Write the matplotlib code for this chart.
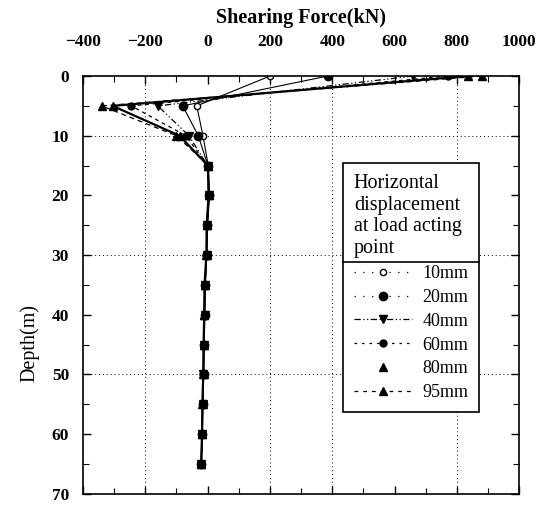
import matplotlib
matplotlib.use("Agg")
from matplotlib import pyplot as plt
from matplotlib.lines import Line2D
from matplotlib.ticker import MultipleLocator

plt.rcParams['font.family'] = ['Liberation Serif', 'DejaVu Serif']

# depth of the measuring points along the pile (m)
depth = [0, 5, 10, 15, 20, 25, 30, 35, 40, 45, 50, 55, 60, 65]

# shearing force (kN) for each horizontal displacement at the load point
sf_10 = [200, -35, -15, 2, 6, 0, -3, -7, -9, -11, -13, -15, -17, -20]
sf_20 = [385, -80, -30, 1, 5, -1, -3, -8, -10, -12, -13, -16, -17, -20]
sf_40 = [660, -160, -60, 0, 4, -2, -3, -9, -10, -13, -14, -16, -18, -21]
sf_60 = [770, -245, -70, 0, 3, -3, -4, -10, -10, -13, -14, -16, -18, -21]
sf_80 = [835, -305, -90, 1, 3, -3, -4, -10, -11, -13, -14, -17, -18, -21]
sf_95 = [880, -340, -100, 2, 3, -3, -3, -10, -11, -13, -13, -16, -17, -20]

labels = ['10mm', '20mm', '40mm', '60mm', '80mm', '95mm']
series = [sf_10, sf_20, sf_40, sf_60, sf_80, sf_95]

# dotted grid lines drawn only at these values
grid_x = [-200, 200, 400, 800]
grid_y = [10, 30, 50]

# (marker, marker face, size, line style in plot, line width, line style in legend)
styles = [
    ('o', 'white', 4.5, '-', 0.8, (0, (1, 6))),
    ('o', 'black', 6, '-', 0.8, (0, (1, 6))),
    ('v', 'black', 6, (0, (5, 2, 1, 2, 1, 2)), 0.9, (0, (5, 2, 1, 2, 1, 2))),
    ('o', 'black', 5, (0, (3, 3)), 0.9, (0, (2, 4))),
    ('^', 'black', 6, '-', 1.6, 'none'),
    ('^', 'black', 6, (0, (4, 3)), 0.9, (0, (3, 4))),
]

fig = plt.figure(figsize=(5.46, 5.07), dpi=100)
ax = fig.add_axes([0.152, 0.026, 0.799, 0.824])

for gx in grid_x:
    ax.axvline(gx, color='black', linestyle=(0, (1, 3)), linewidth=0.7, zorder=0)
for gy in grid_y:
    ax.axhline(gy, color='black', linestyle=(0, (1, 3)), linewidth=0.7, zorder=0)

handles = []
for sf, lab, (mk, mfc, ms, ls, lw, lls) in zip(series, labels, styles):
    ax.plot(sf, depth, color='black', linestyle=ls, linewidth=lw,
            marker=mk, markerfacecolor=mfc, markeredgecolor='black',
            markersize=ms)
    handles.append(Line2D([], [], color='black', linestyle=lls, linewidth=0.9,
                          marker=mk, markerfacecolor=mfc,
                          markeredgecolor='black', markersize=ms, label=lab))

ax.set_xlim(-400, 1000)
ax.set_ylim(70, 0)

ax.xaxis.set_major_locator(MultipleLocator(200))
ax.xaxis.set_minor_locator(MultipleLocator(100))
ax.yaxis.set_major_locator(MultipleLocator(10))
ax.yaxis.set_minor_locator(MultipleLocator(5))
ax.xaxis.tick_top()
ax.xaxis.set_label_position('top')
ax.tick_params(which='both', direction='in', top=True, bottom=True,
               left=True, right=True, labelsize=12.5)
ax.tick_params(which='major', length=6, width=1)
ax.tick_params(which='minor', length=4, width=0.8)
ax.tick_params(axis='x', which='major', pad=19)
ax.tick_params(axis='y', which='major', pad=10)
for lbl in ax.get_xticklabels() + ax.get_yticklabels():
    lbl.set_fontweight('bold')

for sp in ax.spines.values():
    sp.set_linewidth(1.2)

ax.set_xlabel('Shearing Force(kN)', fontsize=14.5, fontweight='bold', labelpad=8)
ax.set_ylabel('Depth(m)', fontsize=14.5)
ax.yaxis.set_label_coords(-0.1, 0.36)

leg = ax.legend(handles=handles,
                title='Horizontal\ndisplacement\nat load acting\npoint',
                title_fontsize=14.5, fontsize=13, alignment='left',
                loc='upper left', bbox_to_anchor=(0.596, 0.792),
                borderaxespad=0, frameon=True, fancybox=False,
                edgecolor='black', framealpha=1, handlelength=3.2,
                handletextpad=0.6, labelspacing=0.38, borderpad=0.6)
leg.get_frame().set_linewidth(1.2)

# separator between the legend title and its entries
fig.canvas.draw()
inv = fig.transFigure.inverted()
fb = leg.get_frame().get_window_extent()
tb = leg.get_title().get_window_extent()
(x0, y0), (x1, _) = inv.transform([(fb.x0, tb.y0 - 4), (fb.x1, tb.y0 - 4)])
fig.add_artist(Line2D([x0, x1], [y0, y0], color='black', linewidth=1.2,
                      transform=fig.transFigure))

fig.savefig('out.png', dpi=100)
